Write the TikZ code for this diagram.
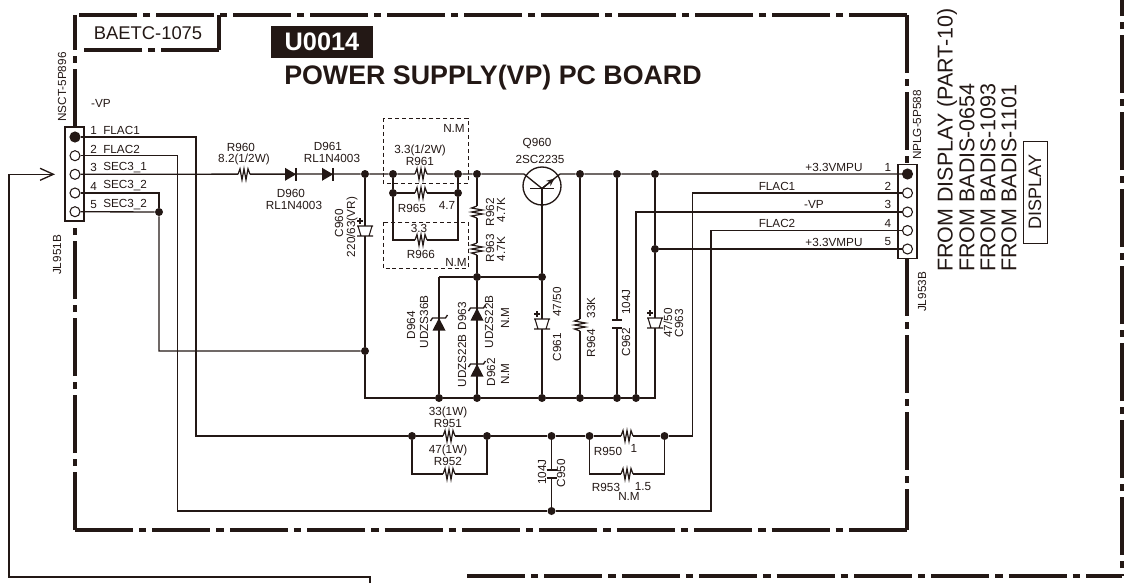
\documentclass[tikz,border=0pt]{standalone}
\usepackage{fontspec}
\setmainfont{Liberation Sans}
\usetikzlibrary{arrows.meta}
\definecolor{ink}{HTML}{231815}
\tikzset{
    wire/.style={ink,line width=1pt,line join=miter},
    framel/.style={ink,line width=2.5pt,dash pattern=on 43.5pt off 4.5pt on 5.25pt off 4.5pt},
    frameb/.style={framel,dash pattern=on 43.5pt off 4.5pt on 5.55pt off 4.5pt},
    dot/.style={circle,fill=ink,inner sep=0pt,minimum size=6pt},
    pin/.style={circle,draw=ink,line width=.8pt,fill=white,inner sep=0pt,minimum size=7.5pt},
    lbl/.style={text=ink,inner sep=0pt,font=\fontsize{8.8}{10}\selectfont},
    vlbl/.style={lbl,rotate=90},
    biglbl/.style={text=ink,inner sep=0pt,rotate=90,anchor=west,font=\fontsize{16.1}{18}\selectfont},
    resh/.pic={
        \fill[white] (-6,-1.5) rectangle (6,1.5);
        \draw[wire,line width=.9pt] (-6,0) -- (-4,-5.5) -- (-2,5.5) -- (0,-5.5) -- (2,5.5) -- (4,-5.5) -- (6,0);
    },
    capv/.pic={
        \fill[white] (-5,-4) rectangle (5,4);
        \draw[wire] (-5,-4) -- (5,-4);
        \draw[wire] (-5,4) -- (5,4);
    },
    elcap/.pic={
        \fill[white] (-6,-5) rectangle (6,5);
        \draw[wire,line width=.8pt] (-8,-5) -- (8,-5) (-8,5) -- (8,5) (-7,-5) -- (-4,5) (7,-5) -- (4,5);
        \draw[wire,line width=.8pt] (-8,-10) -- (-2,-10) (-5,-13) -- (-5,-7);
    },
    dioder/.pic={
        \fill[ink] (-5.5,-6.5) -- (5.5,0) -- (-5.5,6.5) -- cycle;
        \draw[wire] (5.5,-6.5) -- (5.5,6.5);
    },
    zener/.pic={
        \fill[ink] (-6.5,6.5) -- (6.5,6.5) -- (0,-6) -- cycle;
        \draw[wire] (-8.5,-3) -- (-6.5,-6) -- (6.5,-6) -- (8.5,-9);
    },
}
\begin{document}
\begin{tikzpicture}[x=.75pt,y=-.75pt]
    \useasboundingbox (0,0) rectangle (1124,583);

    % outer frames
    \draw[framel] (907,15) -- (75,15);
    \draw[wire,line width=2.5pt] (219,15) -- (219,50);
    \draw[framel] (219,50) -- (82,50);
    \draw[framel,dash phase=17.25pt] (75,15) -- (75,127);
    \draw[framel] (75,530) -- (75,224);
    \draw[frameb] (75,530) -- (907,530);
    \draw[framel] (907,15) -- (907,165);
    \draw[framel] (907,258) -- (907,530);
    \draw[frameb] (467,576) -- (1122,576);
    \draw[framel,dash phase=42pt] (1122,576) -- (1122,0);

    % connectors
    \node[draw=ink,line width=.8pt,fill=white,inner sep=0pt,minimum width=14.25pt,minimum height=70.5pt] (JL951) at (74.5,174) {};
    \node[draw=ink,line width=.8pt,fill=white,inner sep=0pt,minimum width=14.25pt,minimum height=70.5pt] (JL953) at (907.5,211.5) {};
    \foreach \i/\y in {1/137,2/155.7,3/174.3,4/193,5/211.7}
        \node[pin] (lp\i) at (75,\y) {};
    \foreach \i/\y in {1/174,2/193,3/212,4/230.5,5/249}
        \node[pin] (rp\i) at (907.5,\y) {};
    \node[circle,fill=ink,inner sep=0pt,minimum size=7.5pt] (lp1f) at (75,137) {};
    \node[circle,fill=ink,inner sep=0pt,minimum size=7.5pt] (rp1f) at (907.5,174) {};

    % junctions
    \foreach \name/\x/\y in {ja/159/212,jb/365/174,jc/393/174,jd/458/174,je/477/174,jf/393/193,jg/458/193,
        jh/580/174,ji/617/174,jj/655/174,jk/655/249,jl/365/351,jm/477/277,jn/542/277,
        jo/439/398,jp/477/398,jq/542/398,jr/580/398,js/617/398,jt/636/398,
        ju/412/436,jv/487/436,jw/551.5/436,jx/589.5/436,jy/664.5/436,jz/551.5/511}
        \node[dot] (\name) at (\x,\y) {};

    % bends and free ends
    \coordinate (bend1) at (196,436);
    \coordinate (bend2) at (692.5,436);
    \coordinate (bend3) at (177.5,511);
    \coordinate (bend4) at (711,511);
    \coordinate (bend5) at (159,351);
    \coordinate (bend6) at (365,398);
    \coordinate (bend7) at (655,398);
    \coordinate (bend8) at (439,277);
    \coordinate (bend9) at (412,474);
    \coordinate (bend10) at (487,474);
    \coordinate (bend11) at (589.5,474);
    \coordinate (bend12) at (664.5,474);
    \coordinate (bend13) at (393,240);
    \coordinate (bend14) at (458,240);
    \coordinate (bend15) at (636,212);
    \coordinate (arrtip) at (55,174.3);
    \coordinate (wleft) at (9,174.3);
    \coordinate (wbot) at (9,577);
    \coordinate (wend) at (370,577);
    \coordinate (wcut) at (370,583);

    % transistor
    \node[circle,draw=ink,line width=1pt,inner sep=0pt,minimum size=28.5pt] (Q960) at (542,186) {};
    \coordinate (qe) at (524,174);
    \coordinate (qc) at (560,174);
    \coordinate (qb) at (542,188.5);
    \coordinate (qm) at (554.5,178.5);
    \coordinate (qbl) at (530,188.5);
    \coordinate (qbr) at (554,188.5);

    % wires
    \begin{scope}[wire]
        \draw (wcut) -- (wend) -- (wbot) -- (wleft);
        \draw[-{Straight Barb[length=10pt,width=9pt]}] (wleft) -- (arrtip);
        \draw (lp1) -| (bend1) -- (ju) -- (jv) -- (jw) -- (jx) -- (jy) -- (bend2) |- (rp2);
        \draw (lp2) -| (bend3) -- (jz) -- (bend4) |- (rp4);
        \draw (lp3) -- (jb) -- (jc) -- (jd) -- (je) -- (qe) -- (qb) -- (qc) -- (jh) -- (ji) -- (jj) -- (rp1);
        \draw (lp4) -| (ja);
        \draw (lp5) -- (ja) -- (bend5) -- (jl);
        \draw (jb) -- (jl) -- (bend6) -- (jo) -- (jp) -- (jq) -- (jr) -- (js) -- (jt) -- (bend7) -- (jk) -- (jj);
        \draw (jk) -- (rp5);
        \draw (jt) -- (bend15) -- (rp3);
        \draw (jc) -- (jf) -- (jg) -- (jd);
        \draw (jf) -- (bend13) -- (bend14) -- (jg);
        \draw (je) -- (jm) -- (jp);
        \draw (bend8) -- (jm) -- (jn);
        \draw (bend8) -- (jo);
        \draw (qb) -- (jn) -- (jq);
        \draw (qbl) -- (qbr);
        \draw (jh) -- (jr);
        \draw (ji) -- (js);
        \draw (ju) -- (bend9) -- (bend10) -- (jv);
        \draw (jx) -- (bend11) -- (bend12) -- (jy);
        \draw (jw) -- (jz);
        \draw[-{Stealth[open,length=6pt,width=5pt]}] (qb) -- (qm);
    \end{scope}

    % parts on the wires
    \pic (R960) at (244,174.3) {resh};
    \pic (R961) at (421,174) {resh};
    \pic (R965) at (421,193) {resh};
    \pic (R966) at (421,240) {resh};
    \pic (R951) at (449,436) {resh};
    \pic (R952) at (449,474) {resh};
    \pic (R950) at (627,436) {resh};
    \pic (R953) at (627,474) {resh};
    \pic[rotate=90] (R962) at (477,212) {resh};
    \pic[rotate=90] (R963) at (477,249) {resh};
    \pic[rotate=90] (R964) at (580,325) {resh};
    \pic (C962) at (617,324) {capv};
    \pic (C950) at (551.5,474) {capv};
    \pic (C960) at (365,231) {elcap};
    \pic (C961) at (542,324) {elcap};
    \pic (C963) at (655,323) {elcap};
    \pic (D960) at (290.5,174.3) {dioder};
    \pic (D961) at (327.5,174.3) {dioder};
    \pic (D962) at (477,370) {zener};
    \pic (D963) at (477,314) {zener};
    \pic (D964) at (439,324) {zener};

    % not mounted areas
    \draw[ink,line width=.7pt,dash pattern=on 3pt off 2.2pt] (383,118) rectangle (468,183);
    \draw[ink,line width=.7pt,dash pattern=on 3pt off 2.2pt] (383,222) rectangle (468,268);

    % titles
    \node[text=ink,inner sep=0pt,font=\fontsize{13.8}{16}\selectfont] (board) at (148,33) {BAETC-1075};
    \node[fill=ink,text=white,inner sep=0pt,minimum width=76.5pt,minimum height=24pt,font=\fontsize{19}{22}\selectfont\bfseries] (unit) at (322,42) {U0014};
    \node[text=ink,inner sep=0pt,anchor=west,font=\fontsize{20.1}{24}\selectfont\bfseries] (title) at (284,78) {POWER SUPPLY(VP) PC BOARD};

    % left connector labels
    \node[lbl,rotate=90] (tNSCT) at (62,87) {NSCT-5P896};
    \node[lbl,rotate=90] (tJL951) at (57,255) {JL951B};
    \node[lbl] (tVP) at (101,103) {-VP};
    \foreach \i/\t/\y in {1/FLAC1/130,2/FLAC2/149,3/SEC3\_1/167.5,4/SEC3\_2/186,5/SEC3\_2/205} {
        \node[lbl,anchor=west] (tln\i) at (90,\y) {\i};
        \node[lbl,anchor=west] (tlp\i) at (103,\y) {\t};
    }

    % part labels
    \node[lbl] (tR960) at (241,147.5) {R960};
    \node[lbl] (vR960) at (244,159.5) {8.2(1/2W)};
    \node[lbl] (tD961) at (328,146) {D961};
    \node[lbl] (vD961) at (332,158) {RL1N4003};
    \node[lbl] (tD960) at (291,193) {D960};
    \node[lbl] (vD960) at (294,205) {RL1N4003};
    \node[vlbl] (tC960) at (339,223) {C960};
    \node[vlbl] (vC960) at (352,227) {220/63(VR)};
    \node[lbl] (tNM1) at (454,128) {N.M};
    \node[lbl] (vR961) at (420,150) {3.3(1/2W)};
    \node[lbl] (tR961) at (420,161) {R961};
    \node[lbl] (tR965) at (412,208) {R965};
    \node[lbl] (vR965) at (447,205) {4.7};
    \node[lbl] (vR966) at (419,228) {3.3};
    \node[lbl] (tR966) at (421,254) {R966};
    \node[lbl] (tNM2) at (456,262) {N.M};
    \node[vlbl] (tR962) at (490,212) {R962};
    \node[vlbl] (vR962) at (501,210) {4.7K};
    \node[vlbl] (tR963) at (490,248) {R963};
    \node[vlbl] (vR963) at (501,249) {4.7K};
    \node[lbl] (tQ960) at (537,144) {Q960};
    \node[lbl] (vQ960) at (540,159) {2SC2235};
    \node[vlbl] (tD964) at (411,325) {D964};
    \node[vlbl] (vD964) at (424,322) {UDZS36B};
    \node[vlbl] (tD963) at (462,316) {D963};
    \node[vlbl] (vD963) at (489,322) {UDZS22B};
    \node[vlbl] (tNM3) at (505,318) {N.M};
    \node[vlbl] (vD962) at (462,361) {UDZS22B};
    \node[vlbl] (tD962) at (491,372) {D962};
    \node[vlbl] (tNM4) at (505,374) {N.M};
    \node[vlbl] (vC961) at (557,302) {47/50};
    \node[vlbl] (tC961) at (557,347) {C961};
    \node[vlbl] (vR964) at (591,308) {33K};
    \node[vlbl] (tR964) at (591,343) {R964};
    \node[vlbl] (vC962) at (626,302) {104J};
    \node[vlbl] (tC962) at (626,342) {C962};
    \node[vlbl] (vC963) at (668,323) {47/50};
    \node[vlbl] (tC963) at (679,323) {C963};
    \node[lbl] (vR951) at (448,412) {33(1W)};
    \node[lbl] (tR951) at (448,423) {R951};
    \node[lbl] (vR952) at (448,450) {47(1W)};
    \node[lbl] (tR952) at (448,461) {R952};
    \node[vlbl] (vC950) at (542,472) {104J};
    \node[vlbl] (tC950) at (561,473) {C950};
    \node[lbl] (tR950) at (608,451) {R950};
    \node[lbl] (vR950) at (634,448) {1};
    \node[lbl] (tR953) at (606,487) {R953};
    \node[lbl] (tNM5) at (629,496) {N.M};
    \node[lbl] (vR953) at (643,487) {1.5};

    % right connector labels
    \foreach \i/\t/\x/\y in {1/+3.3VMPU/834/167,2/FLAC1/777/186,3/-VP/814/204.5,4/FLAC2/777/223,5/+3.3VMPU/834/242} {
        \node[lbl] (trp\i) at (\x,\y) {\t};
        \node[lbl] (trn\i) at (888,\y) {\i};
    }
    \node[vlbl] (tNPLG) at (917,125) {NPLG-5P588};
    \node[vlbl] (tJL953) at (922,292) {JL953B};
    \node[biglbl] (from1) at (947,272) {FROM DISPLAY (PART-10)};
    \node[biglbl] (from2) at (967,272) {FROM BADIS-0654};
    \node[biglbl] (from3) at (988,272) {FROM BADIS-1093};
    \node[biglbl] (from4) at (1009,272) {FROM BADIS-1101};
    \node[draw=ink,line width=.6pt,text=ink,rotate=90,inner sep=0pt,minimum width=76.5pt,minimum height=18pt,font=\fontsize{13.5}{16}\selectfont] (display) at (1035,192) {DISPLAY};
\end{tikzpicture}
\end{document}
